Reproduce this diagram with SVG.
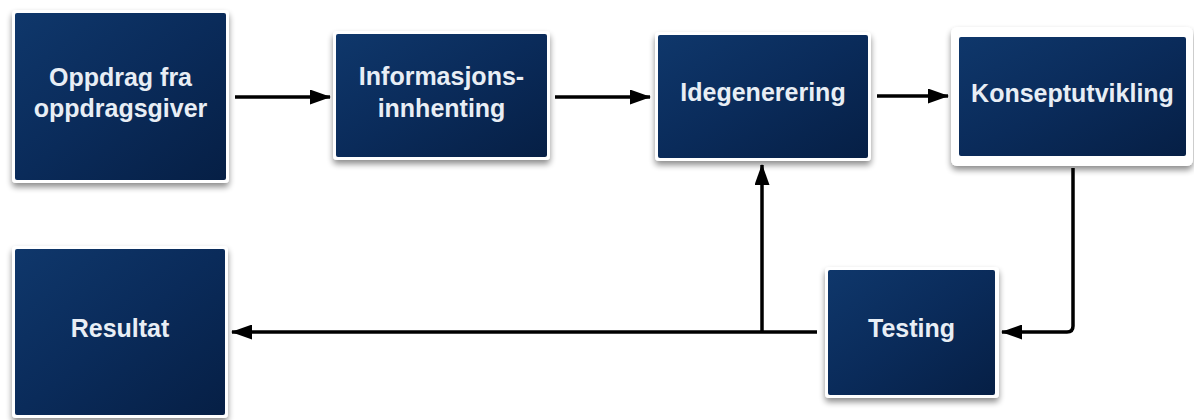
<svg xmlns="http://www.w3.org/2000/svg" width="1194" height="420" viewBox="0 0 1194 420">
  <defs>
    <linearGradient id="boxGrad" x1="0" y1="0" x2="1" y2="1">
      <stop offset="0" stop-color="#0f376b"/>
      <stop offset="0.5" stop-color="#0a2b5a"/>
      <stop offset="1" stop-color="#061f45"/>
    </linearGradient>
    <filter id="shadow" x="-10%" y="-10%" width="120%" height="130%">
      <feGaussianBlur in="SourceAlpha" stdDeviation="3"/>
      <feOffset dx="0" dy="4" result="b"/>
      <feComponentTransfer><feFuncA type="linear" slope="0.45"/></feComponentTransfer>
      <feMerge><feMergeNode/><feMergeNode in="SourceGraphic"/></feMerge>
    </filter>
    <marker id="arrow" viewBox="0 0 21 15" refX="20" refY="7.5" markerWidth="21" markerHeight="15" markerUnits="userSpaceOnUse" orient="auto">
      <path d="M0,0 L21,7.5 L0,15 Z" fill="#000"/>
    </marker>
  </defs>
  <style>
    .frame { fill: #ffffff; filter: url(#shadow); }
    .box { fill: url(#boxGrad); }
    .label { font-family: "Liberation Sans", Arial, sans-serif; font-weight: bold; font-size: 25px; fill: #e8eef5; text-anchor: middle; }
    .conn { fill: none; stroke: #000; stroke-width: 3.5; marker-end: url(#arrow); }
  </style>
  <rect width="1194" height="420" fill="#ffffff"/>

  <g id="connectors">
    <path class="conn" d="M235,97 L330,97"/>
    <path class="conn" d="M555,97 L650,97"/>
    <path class="conn" d="M877,96 L948,96"/>
    <path class="conn" d="M1073,168 L1073,326 Q1073,332 1067,332 L1002,332"/>
    <path class="conn" d="M817,332 L232,332"/>
    <path class="conn" d="M762,332 L762,165"/>
  </g>

  <g id="node-oppdrag">
    <rect class="frame" x="12" y="10" width="217" height="173" rx="4"/>
    <rect class="box" x="15" y="13" width="211" height="167" rx="2"/>
    <text class="label" x="120.5" y="86">Oppdrag fra</text>
    <text class="label" x="120.5" y="117">oppdragsgiver</text>
  </g>

  <g id="node-informasjon">
    <rect class="frame" x="333" y="31" width="217" height="129" rx="4"/>
    <rect class="box" x="336" y="34" width="211" height="123" rx="2"/>
    <text class="label" x="441.5" y="85">Informasjons-</text>
    <text class="label" x="441.5" y="117">innhenting</text>
  </g>

  <g id="node-idegenerering">
    <rect class="frame" x="655" y="32" width="216" height="129" rx="4"/>
    <rect class="box" x="658" y="35" width="210" height="123" rx="2"/>
    <text class="label" x="763" y="101">Idegenerering</text>
  </g>

  <g id="node-konsept">
    <rect class="frame" x="951" y="27" width="242" height="139" rx="6"/>
    <rect class="box" x="959" y="37" width="227" height="119" rx="2"/>
    <text class="label" x="1072.5" y="102">Konseptutvikling</text>
  </g>

  <g id="node-testing">
    <rect class="frame" x="825" y="267" width="174" height="131" rx="4"/>
    <rect class="box" x="828" y="270" width="167" height="125" rx="2"/>
    <text class="label" x="911.5" y="337">Testing</text>
  </g>

  <g id="node-resultat">
    <rect class="frame" x="12" y="246" width="216" height="172" rx="4"/>
    <rect class="box" x="15" y="249" width="210" height="166" rx="2"/>
    <text class="label" x="120" y="337">Resultat</text>
  </g>
</svg>
